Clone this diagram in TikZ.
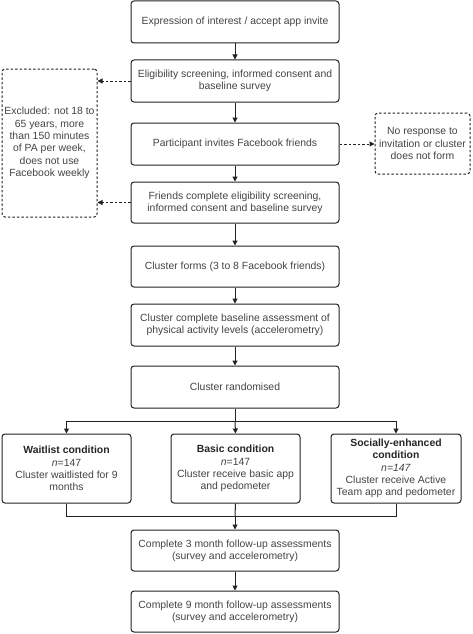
\documentclass[tikz,border=0pt]{standalone}
\usepackage{fontspec}
\setmainfont{Liberation Sans}
\usetikzlibrary{arrows.meta}
\definecolor{txt}{HTML}{444444}
\definecolor{ln}{HTML}{222222}
\begin{document}
\begin{tikzpicture}[x=1pt,y=-1pt,
  box/.style={draw=ln,line width=1pt,rounded corners=3pt,fill=white,inner sep=0pt,align=center,text=txt,font=\fontsize{10.4}{12.3}\selectfont},
  dbox/.style={box,dash pattern=on 2.5pt off 2pt},
  arr/.style={draw=ln,line width=1pt,-{Triangle[length=5pt,width=5pt]}},
  darr/.style={arr,dash pattern=on 2.5pt off 2pt},
  ln/.style={draw=ln,line width=1pt}]
\useasboundingbox (0,0) rectangle (472,634);
\fill[white] (0,0) rectangle (472,634);
\newcommand{\bx}[6]{\node[#1,minimum width=#4-#3,minimum height=#6-#5] (#2) at ({(#3+#4)/2},{(#5+#6)/2})}
\bx{box}{b1}{131}{339}{1}{43} {Expression of interest / accept app invite};
\bx{box}{b2}{131}{339}{60}{102} {Eligibility screening, informed consent and\\baseline survey};
\bx{box}{b3}{131}{339}{123}{165} {Participant invites Facebook friends};
\bx{box}{b4}{131}{339}{182}{223} {Friends complete eligibility screening,\\informed consent and baseline survey};
\bx{box}{b5}{131}{339}{246}{287} {Cluster forms (3 to 8 Facebook friends)};
\bx{box}{b6}{131}{339}{304}{346} {Cluster complete baseline assessment of\\physical activity levels (accelerometry)};
\bx{box}{b7}{131}{339}{366}{408} {Cluster randomised};
\bx{box}{c1}{2}{131}{434}{503} {\textbf{\color{black!85}Waitlist condition}\\\textit{n}=147\\Cluster waitlisted for 9\\months};
\bx{box}{c2}{171}{300}{434}{503} {\textbf{\color{black!85}Basic condition}\\\textit{n}=147\\Cluster receive basic app\\and pedometer};
\bx{box}{c3}{331}{461}{434}{503} {\textbf{\color{black!85}Socially-enhanced}\\\textbf{\color{black!85}condition}\\\textit{n=147}\\Cluster receive Active\\Team app and pedometer};
\bx{box}{b8}{131}{339}{530}{571} {Complete 3 month follow-up assessments\\(survey and accelerometry)};
\bx{box}{b9}{131}{339}{591}{632} {Complete 9 month follow-up assessments\\(survey and accelerometry)};
\bx{dbox}{ex}{2}{97}{69}{217} {Excluded: not 18 to\\65 years, more\\than 150 minutes\\of PA per week,\\does not use\\Facebook weekly};
\bx{dbox}{nr}{375}{470}{113}{174} {No response to\\invitation or cluster\\does not form};
\draw[arr] (b1) -- (b2);
\draw[arr] (b2) -- (b3);
\draw[arr] (b3) -- (b4);
\draw[arr] (b4) -- (b5);
\draw[arr] (b5) -- (b6);
\draw[arr] (b6) -- (b7);
\draw[darr] (b2.west) -- (ex.east |- b2.west);
\draw[darr] (b4.west) -- (ex.east |- b4.west);
\draw[darr] (b3.east) -- (nr.west |- b3.east);
\coordinate (sp) at (235,421);
\draw[ln] (b7.south) -- (sp);
\draw[arr] (sp) -| (c1.north);
\draw[arr] (sp) -| (c3.north);
\draw[arr] (sp) -- (c2.north);
\coordinate (mg) at (235,516);
\draw[ln] (c1.south) |- (mg);
\draw[ln] (c3.south) |- (mg);
\draw[ln] (c2.south) -- (mg);
\draw[arr] (mg) -- (b8.north);
\draw[arr] (b8) -- (b9);
\end{tikzpicture}
\end{document}
